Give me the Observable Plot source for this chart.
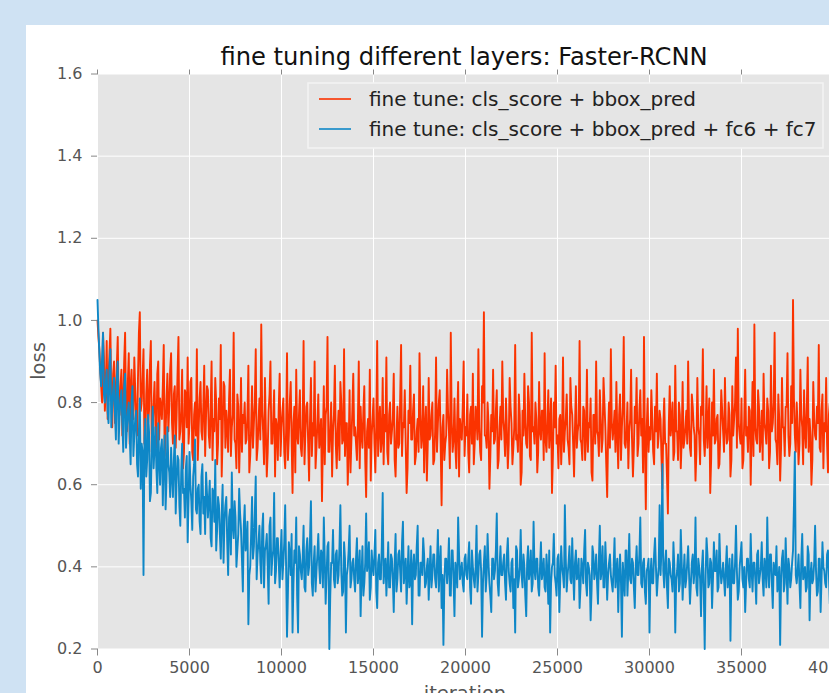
<!DOCTYPE html>
<html>
<head>
<meta charset="utf-8">
<script src="https://cdn.jsdelivr.net/npm/d3@7"></script>
<script src="https://cdn.jsdelivr.net/npm/@observablehq/plot@0.6"></script>
<style>
  html, body { margin: 0; padding: 0; }
  body { width: 829px; height: 693px; overflow: hidden; background: #cfe2f3; position: relative; font-family: "DejaVu Sans", sans-serif; }
  #panel { position: absolute; left: 26px; top: 25px; right: 0; bottom: 0; background: #ffffff; }
  #chart { position: absolute; left: 0; top: 0; }
</style>
</head>
<body>
<div id="panel"></div>
<div id="chart"></div>
<script>
const titleText = "fine tuning different layers: Faster-RCNN";
const xLabel = "iteration";
const yLabel = "loss";
const seriesNames = ["fine tune: cls_score + bbox_pred", "fine tune: cls_score + bbox_pred + fc6 + fc7"];
const seriesColors = ["#fb3300", "#0e87c7"];
const xTicks = [0, 5000, 10000, 15000, 20000, 25000, 30000, 35000, 40000];
const yTicks = [0.2, 0.4, 0.6, 0.8, 1.0, 1.2, 1.4, 1.6];

// loss read at iterations 0, 100, 200, ... 40000
const lossHead = [
  1.00, 0.93, 0.84, 0.97, 0.78, 0.95, 0.86, 0.98, 0.74, 0.90, 0.82, 0.96, 0.77, 0.88, 0.80, 0.97, 0.73, 0.92, 0.84, 0.79,
  0.91, 0.76, 0.86, 1.02, 0.80, 0.93, 0.71, 0.88, 0.78, 0.95, 0.74, 0.85, 0.69, 0.90, 0.81, 0.76, 0.94, 0.72, 0.87, 0.79,
  0.92, 0.70, 0.84, 0.77, 0.96, 0.73, 0.88, 0.68, 0.82, 0.91, 0.75, 0.86, 0.66, 0.80, 0.93, 0.74, 0.85, 0.71, 0.89, 0.77,
  0.83, 0.69, 0.90, 0.76, 0.86, 0.65, 0.81, 0.94, 0.72, 0.84, 0.78, 0.68, 0.88, 0.74, 0.97, 0.70, 0.82, 0.63, 0.86, 0.77,
  0.80, 0.71, 0.89, 0.67, 0.84, 0.75, 0.93, 0.69, 0.81, 0.99, 0.73, 0.86, 0.62, 0.78, 0.90, 0.70, 0.83, 0.76, 0.66, 0.87,
  0.74, 0.81, 0.64, 0.92, 0.72, 0.85, 0.58, 0.79, 0.88, 0.70, 0.83, 0.67, 0.95, 0.73, 0.80, 0.61, 0.86, 0.75, 0.90, 0.69,
  0.82, 0.72, 0.56, 0.84, 0.77, 0.96, 0.68, 0.80, 0.73, 0.89, 0.64, 0.78, 0.85, 0.70, 0.93, 0.75, 0.60, 0.83, 0.71, 0.87,
  0.74, 0.66, 0.90, 0.79, 0.69, 0.84, 0.57, 0.76, 0.88, 0.72, 0.81, 0.63, 0.95, 0.74, 0.68, 0.86, 0.77, 0.91, 0.65, 0.80,
  0.73, 0.87, 0.62, 0.79, 0.70, 0.94, 0.75, 0.83, 0.58, 0.78, 0.89, 0.71, 0.82, 0.67, 0.76, 0.92, 0.69, 0.84, 0.74, 0.61,
  0.86, 0.72, 0.80, 0.66, 0.91, 0.75, 0.83, 0.55, 0.77, 0.70, 0.88, 0.73, 0.97, 0.68, 0.81, 0.64, 0.85, 0.76, 0.71, 0.90,
  0.74, 0.82, 0.63, 0.79, 0.87, 0.70, 0.76, 0.93, 0.68, 0.84, 1.02, 0.72, 0.80, 0.59, 0.77, 0.88, 0.71, 0.83, 0.66, 0.79,
  0.90, 0.73, 0.81, 0.64, 0.86, 0.75, 0.69, 0.94, 0.72, 0.82, 0.60, 0.78, 0.87, 0.70, 0.84, 0.67, 0.97, 0.74, 0.80, 0.63,
  0.85, 0.71, 0.78, 0.92, 0.68, 0.83, 0.74, 0.58, 0.80, 0.89, 0.72, 0.76, 0.65, 0.91, 0.73, 0.82, 0.69, 0.86, 0.77, 0.62,
  0.84, 0.73, 0.95, 0.70, 0.79, 0.66, 0.88, 0.75, 0.81, 0.61, 0.77, 0.90, 0.72, 0.83, 0.68, 0.86, 0.74, 0.57, 0.80, 0.93,
  0.71, 0.78, 0.85, 0.64, 0.82, 0.74, 0.96, 0.69, 0.80, 0.73, 0.88, 0.62, 0.79, 0.86, 0.70, 0.83, 0.76, 0.96, 0.54, 0.81,
  0.74, 0.83, 0.68, 0.79, 0.87, 0.72, 0.76, 0.59, 0.81, 0.70, 0.53, 0.84, 0.75, 0.66, 0.89, 0.73, 0.80, 0.64, 0.85, 0.71,
  0.78, 0.90, 0.69, 0.82, 0.74, 0.61, 0.86, 0.72, 0.79, 0.93, 0.67, 0.84, 0.75, 0.58, 0.80, 0.88, 0.71, 0.77, 0.65, 0.83,
  0.73, 0.86, 0.70, 0.80, 0.62, 0.84, 0.76, 0.91, 0.98, 0.72, 0.81, 0.66, 0.88, 0.74, 0.79, 0.60, 0.85, 0.99, 0.71, 0.83,
  0.68, 0.78, 0.87, 0.73, 0.81, 0.64, 0.89, 0.75, 0.97, 0.70, 0.82, 0.61, 0.86, 0.74, 0.79, 0.92, 0.67, 0.84, 1.05, 0.72,
  0.80, 0.65, 0.88, 0.74, 0.83, 0.69, 0.91, 0.76, 0.60, 0.85, 0.72, 0.79, 0.94, 0.68, 0.82, 0.75, 0.86, 0.63, 0.80, 0.73,
  0.77
];
// loss read at iterations 50, 150, 250, ... 39950
const lossHeadMid = [
  0.96, 0.88, 0.80, 0.91, 0.83, 0.76, 0.92, 0.81, 0.87, 0.75, 0.89, 0.79, 0.84, 0.72, 0.90, 0.78, 0.85, 0.70, 0.88, 0.76,
  0.83, 0.72, 0.97, 0.78, 0.86, 0.70, 0.82, 0.75, 0.89, 0.68, 0.80, 0.74, 0.87, 0.71, 0.79, 0.84, 0.67, 0.81, 0.73, 0.88,
  0.75, 0.82, 0.69, 0.87, 0.71, 0.78, 0.64, 0.83, 0.74, 0.70, 0.85, 0.68, 0.77, 0.72, 0.66, 0.81, 0.73, 0.79, 0.67, 0.84,
  0.72, 0.78, 0.66, 0.73, 0.80, 0.70, 0.76, 0.62, 0.85, 0.69, 0.74, 0.81, 0.67, 0.77, 0.71, 0.64, 0.79, 0.72, 0.68, 0.75,
  0.70, 0.77, 0.63, 0.74, 0.69, 0.80, 0.66, 0.75, 0.71, 0.78, 0.65, 0.73, 0.68, 0.82, 0.70, 0.76, 0.62, 0.74, 0.79, 0.67,
  0.78, 0.68, 0.73, 0.66, 0.80, 0.71, 0.75, 0.63, 0.72, 0.77, 0.69, 0.74, 0.65, 0.79, 0.70, 0.76, 0.67, 0.72, 0.64, 0.75,
  0.69, 0.76, 0.71, 0.65, 0.79, 0.68, 0.74, 0.62, 0.77, 0.70, 0.73, 0.66, 0.80, 0.71, 0.67, 0.75, 0.69, 0.63, 0.78, 0.72,
  0.70, 0.75, 0.64, 0.72, 0.78, 0.66, 0.73, 0.69, 0.61, 0.76, 0.70, 0.74, 0.67, 0.79, 0.71, 0.65, 0.73, 0.68, 0.77, 0.70,
  0.76, 0.66, 0.72, 0.69, 0.81, 0.67, 0.74, 0.70, 0.64, 0.75, 0.71, 0.78, 0.65, 0.73, 0.68, 0.77, 0.72, 0.63, 0.79, 0.70,
  0.71, 0.77, 0.65, 0.73, 0.68, 0.80, 0.70, 0.74, 0.66, 0.72, 0.78, 0.64, 0.75, 0.71, 0.69, 0.76, 0.62, 0.73, 0.79, 0.67,
  0.72, 0.68, 0.77, 0.70, 0.65, 0.79, 0.71, 0.74, 0.66, 0.80, 0.72, 0.69, 0.75, 0.67, 0.73, 0.70, 0.78, 0.64, 0.74, 0.71,
  0.76, 0.67, 0.73, 0.70, 0.79, 0.65, 0.74, 0.71, 0.68, 0.77, 0.63, 0.72, 0.75, 0.69, 0.80, 0.66, 0.73, 0.70, 0.76, 0.68,
  0.73, 0.78, 0.66, 0.71, 0.75, 0.69, 0.81, 0.67, 0.74, 0.70, 0.64, 0.77, 0.72, 0.68, 0.76, 0.71, 0.65, 0.79, 0.70, 0.74,
  0.69, 0.75, 0.71, 0.66, 0.78, 0.72, 0.68, 0.74, 0.63, 0.77, 0.70, 0.73, 0.67, 0.76, 0.71, 0.80, 0.65, 0.72, 0.69, 0.75,
  0.74, 0.68, 0.72, 0.77, 0.66, 0.79, 0.70, 0.73, 0.64, 0.76, 0.71, 0.69, 0.75, 0.67, 0.78, 0.72, 0.63, 0.70, 0.74, 0.68,
  0.71, 0.76, 0.65, 0.73, 0.69, 0.78, 0.67, 0.74, 0.70, 0.62, 0.75, 0.72, 0.80, 0.68, 0.73, 0.66, 0.77, 0.71, 0.69, 0.74,
  0.70, 0.75, 0.67, 0.79, 0.72, 0.68, 0.74, 0.65, 0.77, 0.71, 0.73, 0.69, 0.81, 0.66, 0.72, 0.70, 0.76, 0.64, 0.73, 0.78,
  0.68, 0.74, 0.71, 0.77, 0.66, 0.72, 0.80, 0.69, 0.75, 0.70, 0.64, 0.76, 0.72, 0.68, 0.78, 0.73, 0.67, 0.74, 0.70, 0.79,
  0.72, 0.66, 0.75, 0.70, 0.78, 0.68, 0.73, 0.80, 0.71, 0.65, 0.76, 0.69, 0.74, 0.67, 0.79, 0.72, 0.70, 0.75, 0.81, 0.68,
  0.74, 0.70, 0.77, 0.65, 0.73, 0.79, 0.68, 0.72, 0.66, 0.76, 0.71, 0.75, 0.69, 0.78, 0.64, 0.73, 0.70, 0.77, 0.67, 0.72
];

const lossFc = [
  1.05, 0.92, 0.84, 0.97, 0.80, 0.88, 0.75, 0.93, 0.79, 0.86, 0.71, 0.90, 0.77, 0.83, 0.68, 0.87, 0.74, 0.80, 0.65, 0.84,
  0.72, 0.78, 0.62, 0.81, 0.70, 0.38, 0.76, 0.66, 0.73, 0.58, 0.79, 0.69, 0.64, 0.75, 0.60, 0.71, 0.67, 0.54, 0.74, 0.63,
  0.69, 0.57, 0.72, 0.61, 0.66, 0.50, 0.70, 0.59, 0.64, 0.46, 0.68, 0.56, 0.62, 0.71, 0.53, 0.60, 0.48, 0.65, 0.57, 0.63,
  0.52, 0.61, 0.45, 0.58, 0.66, 0.49, 0.55, 0.42, 0.60, 0.51, 0.57, 0.38, 0.54, 0.63, 0.47, 0.52, 0.44, 0.59, 0.49, 0.34,
  0.55, 0.46, 0.26, 0.40, 0.57, 0.45, 0.62, 0.43, 0.50, 0.36, 0.53, 0.44, 0.48, 0.31, 0.52, 0.42, 0.58, 0.39, 0.47, 0.35,
  0.49, 0.41, 0.55, 0.23, 0.46, 0.38, 0.24, 0.44, 0.52, 0.24, 0.43, 0.37, 0.50, 0.34, 0.47, 0.40, 0.56, 0.33, 0.45, 0.39,
  0.48, 0.36, 0.43, 0.52, 0.31, 0.45, 0.20, 0.41, 0.49, 0.35, 0.44, 0.38, 0.55, 0.33, 0.46, 0.24, 0.40, 0.50, 0.37, 0.42,
  0.34, 0.47, 0.39, 0.28, 0.45, 0.36, 0.53, 0.41, 0.32, 0.44, 0.38, 0.49, 0.30, 0.43, 0.37, 0.58, 0.40, 0.33, 0.46, 0.35,
  0.42, 0.29, 0.48, 0.37, 0.44, 0.34, 0.51, 0.39, 0.31, 0.45, 0.36, 0.26, 0.43, 0.38, 0.50, 0.33, 0.41, 0.47, 0.35, 0.40,
  0.32, 0.45, 0.38, 0.43, 0.35, 0.49, 0.40, 0.30, 0.21, 0.42, 0.36, 0.47, 0.33, 0.44, 0.28, 0.39, 0.52, 0.37, 0.41, 0.34,
  0.43, 0.37, 0.46, 0.31, 0.40, 0.35, 0.50, 0.38, 0.44, 0.23, 0.41, 0.34, 0.48, 0.36, 0.29, 0.42, 0.39, 0.53, 0.33, 0.45,
  0.38, 0.43, 0.32, 0.47, 0.36, 0.41, 0.30, 0.24, 0.44, 0.37, 0.49, 0.35, 0.40, 0.28, 0.45, 0.39, 0.34, 0.51, 0.37, 0.42,
  0.33, 0.46, 0.39, 0.35, 0.43, 0.31, 0.24, 0.40, 0.48, 0.36, 0.42, 0.29, 0.45, 0.38, 0.55, 0.34, 0.41, 0.37, 0.47, 0.32,
  0.44, 0.38, 0.30, 0.42, 0.36, 0.49, 0.33, 0.40, 0.27, 0.45, 0.37, 0.43, 0.31, 0.50, 0.39, 0.35, 0.46, 0.32, 0.41, 0.38,
  0.34, 0.47, 0.39, 0.29, 0.43, 0.23, 0.37, 0.44, 0.33, 0.48, 0.36, 0.41, 0.30, 0.45, 0.38, 0.52, 0.35, 0.42, 0.31, 0.40,
  0.24, 0.42, 0.36, 0.47, 0.33, 0.40, 0.38, 0.65, 0.35, 0.44, 0.30, 0.41, 0.37, 0.46, 0.24, 0.39, 0.34, 0.49, 0.32, 0.43,
  0.37, 0.45, 0.31, 0.41, 0.36, 0.52, 0.33, 0.40, 0.28, 0.44, 0.20, 0.47, 0.35, 0.42, 0.30, 0.46, 0.39, 0.34, 0.48, 0.36,
  0.41, 0.33, 0.45, 0.38, 0.22, 0.43, 0.36, 0.50, 0.32, 0.40, 0.46, 0.35, 0.29, 0.42, 0.37, 0.48, 0.34, 0.41, 0.31, 0.44,
  0.38, 0.46, 0.33, 0.40, 0.52, 0.35, 0.43, 0.30, 0.39, 0.45, 0.36, 0.21, 0.42, 0.34, 0.47, 0.31, 0.40, 0.37, 0.44, 0.68,
  0.36, 0.43, 0.30, 0.48, 0.38, 0.34, 0.45, 0.27, 0.41, 0.37, 0.50, 0.33, 0.42, 0.29, 0.46, 0.39, 0.35, 0.44, 0.31, 0.40,
  0.37
];
const lossFcMid = [
  0.98, 0.87, 0.91, 0.82, 0.85, 0.78, 0.89, 0.74, 0.83, 0.77, 0.86, 0.70, 0.81, 0.75, 0.84, 0.69, 0.78, 0.72, 0.80, 0.67,
  0.76, 0.65, 0.73, 0.59, 0.68, 0.71, 0.62, 0.77, 0.56, 0.70, 0.64, 0.74, 0.58, 0.66, 0.69, 0.55, 0.72, 0.61, 0.65, 0.57,
  0.62, 0.66, 0.53, 0.67, 0.55, 0.63, 0.58, 0.52, 0.67, 0.56, 0.60, 0.49, 0.65, 0.54, 0.59, 0.51, 0.62, 0.53, 0.48, 0.58,
  0.56, 0.47, 0.59, 0.51, 0.44, 0.57, 0.48, 0.53, 0.41, 0.55, 0.46, 0.52, 0.43, 0.50, 0.56, 0.40, 0.48, 0.53, 0.42, 0.50,
  0.44, 0.51, 0.38, 0.48, 0.42, 0.53, 0.37, 0.46, 0.41, 0.49, 0.35, 0.45, 0.40, 0.50, 0.38, 0.44, 0.36, 0.47, 0.41, 0.43,
  0.37, 0.46, 0.40, 0.34, 0.43, 0.48, 0.36, 0.41, 0.33, 0.45, 0.39, 0.42, 0.35, 0.44, 0.38, 0.47, 0.36, 0.41, 0.34, 0.43,
  0.40, 0.44, 0.35, 0.42, 0.38, 0.46, 0.33, 0.41, 0.37, 0.43, 0.36, 0.45, 0.39, 0.34, 0.42, 0.38, 0.44, 0.35, 0.41, 0.37,
  0.42, 0.36, 0.44, 0.38, 0.33, 0.41, 0.39, 0.46, 0.35, 0.40, 0.43, 0.34, 0.41, 0.37, 0.45, 0.36, 0.42, 0.39, 0.35, 0.43,
  0.37, 0.41, 0.34, 0.43, 0.39, 0.46, 0.36, 0.42, 0.38, 0.35, 0.44, 0.40, 0.37, 0.45, 0.33, 0.41, 0.38, 0.43, 0.36, 0.42,
  0.39, 0.35, 0.43, 0.37, 0.41, 0.34, 0.45, 0.38, 0.36, 0.42, 0.40, 0.33, 0.44, 0.37, 0.41, 0.35, 0.43, 0.39, 0.36, 0.42,
  0.38, 0.42, 0.35, 0.44, 0.37, 0.40, 0.34, 0.43, 0.39, 0.36, 0.45, 0.38, 0.41, 0.33, 0.42, 0.37, 0.44, 0.36, 0.40, 0.38,
  0.41, 0.36, 0.43, 0.39, 0.34, 0.42, 0.37, 0.45, 0.35, 0.40, 0.38, 0.43, 0.33, 0.41, 0.37, 0.44, 0.36, 0.39, 0.42, 0.35,
  0.40, 0.37, 0.42, 0.34, 0.39, 0.44, 0.36, 0.41, 0.38, 0.33, 0.43, 0.37, 0.40, 0.35, 0.42, 0.38, 0.45, 0.36, 0.39, 0.41,
  0.37, 0.42, 0.35, 0.40, 0.44, 0.36, 0.41, 0.38, 0.34, 0.43, 0.39, 0.36, 0.42, 0.37, 0.45, 0.35, 0.40, 0.38, 0.43, 0.36,
  0.40, 0.35, 0.42, 0.38, 0.36, 0.41, 0.33, 0.44, 0.39, 0.37, 0.42, 0.35, 0.40, 0.38, 0.43, 0.36, 0.41, 0.34, 0.39, 0.42,
  0.38, 0.36, 0.43, 0.40, 0.37, 0.55, 0.44, 0.39, 0.41, 0.35, 0.42, 0.38, 0.34, 0.40, 0.37, 0.43, 0.36, 0.41, 0.38, 0.35,
  0.41, 0.38, 0.36, 0.43, 0.39, 0.35, 0.42, 0.37, 0.40, 0.34, 0.38, 0.43, 0.36, 0.41, 0.37, 0.39, 0.44, 0.35, 0.40, 0.38,
  0.37, 0.40, 0.35, 0.42, 0.38, 0.36, 0.41, 0.39, 0.34, 0.43, 0.37, 0.40, 0.36, 0.42, 0.35, 0.39, 0.41, 0.37, 0.43, 0.36,
  0.40, 0.37, 0.42, 0.35, 0.39, 0.43, 0.36, 0.41, 0.38, 0.34, 0.40, 0.37, 0.44, 0.36, 0.39, 0.42, 0.35, 0.41, 0.55, 0.38,
  0.39, 0.36, 0.42, 0.37, 0.40, 0.35, 0.43, 0.38, 0.36, 0.41, 0.39, 0.34, 0.42, 0.37, 0.40, 0.36, 0.43, 0.38, 0.35, 0.40
];

function toRows(onHundreds, onFifties) {
  const rows = [];
  onHundreds.forEach((v, i) => rows.push({iteration: i * 100, loss: v}));
  onFifties.forEach((v, i) => rows.push({iteration: i * 100 + 50, loss: v}));
  return rows.sort((a, b) => a.iteration - b.iteration);
}
const dataHead = toRows(lossHead, lossHeadMid);
const dataFc = toRows(lossFc, lossFcMid);

const tickColor = "#888";
const textColor = "#555";

const chart = Plot.plot({
  width: 900,
  height: 710,
  marginLeft: 97,
  marginRight: 67,
  marginTop: 73.5,
  marginBottom: 61.5,
  style: {background: "transparent", maxWidth: "none", fontFamily: "DejaVu Sans", overflow: "visible"},
  x: {domain: [0, 40000], label: null},
  y: {domain: [0.2, 1.6], label: null},
  marks: [
    Plot.frame({fill: "#e5e5e5", stroke: null}),
    Plot.gridX(xTicks, {stroke: "#ffffff", strokeOpacity: 1, strokeWidth: 1}),
    Plot.gridY(yTicks, {stroke: "#ffffff", strokeOpacity: 1, strokeWidth: 1}),
    Plot.lineY(dataHead, {x: "iteration", y: "loss", stroke: seriesColors[0], strokeWidth: 1.9}),
    Plot.lineY(dataFc, {x: "iteration", y: "loss", stroke: seriesColors[1], strokeWidth: 1.9}),
    Plot.axisY(yTicks, {tickSize: 6, tickPadding: 9, tickFormat: d3.format(".1f"), fontSize: 16, color: textColor, stroke: tickColor, label: null}),
    Plot.axisX(xTicks, {anchor: "bottom", tickSize: 7, tickPadding: 6, tickFormat: d3.format("d"), fontSize: 16, color: textColor, stroke: tickColor, label: null}),
    Plot.axisX(xTicks, {anchor: "top", tickSize: 5, tickFormat: () => "", stroke: tickColor, label: null})
  ]
});

document.getElementById("chart").appendChild(chart);

const svg = d3.select(chart);
const deco = svg.append("g").attr("font-family", "DejaVu Sans");

deco.append("text")
  .attr("x", 464).attr("y", 65)
  .attr("text-anchor", "middle")
  .attr("font-size", 24.2)
  .attr("fill", "#111")
  .text(titleText);

deco.append("text")
  .attr("transform", "translate(45,361) rotate(-90)")
  .attr("text-anchor", "middle")
  .attr("font-size", 19.5)
  .attr("fill", textColor)
  .text(yLabel);

deco.append("text")
  .attr("x", 465).attr("y", 700)
  .attr("text-anchor", "middle")
  .attr("font-size", 19.5)
  .attr("fill", textColor)
  .text(xLabel);

const legend = deco.append("g");
legend.append("rect")
  .attr("x", 308).attr("y", 83).attr("width", 515).attr("height", 65)
  .attr("fill", "#e5e5e5").attr("stroke", "#f3f3f3").attr("stroke-width", 1.5);
seriesNames.forEach((name, i) => {
  const cy = 99 + i * 30;
  legend.append("line")
    .attr("x1", 319).attr("x2", 351).attr("y1", cy).attr("y2", cy)
    .attr("stroke", seriesColors[i]).attr("stroke-width", 1.6);
  legend.append("text")
    .attr("x", 369).attr("y", cy + 7)
    .attr("text-anchor", "start")
    .attr("font-size", 20)
    .attr("fill", "#222")
    .text(name);
});
</script>
</body>
</html>
